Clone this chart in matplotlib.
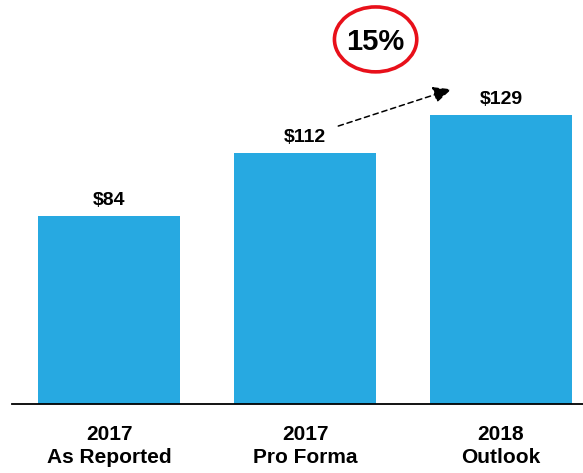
import matplotlib.pyplot as plt
from matplotlib.patches import Ellipse
import numpy as np

categories = ["2017\nAs Reported", "2017\nPro Forma", "2018\nOutlook"]
values = [84, 112, 129]
labels = ["$84", "$112", "$129"]
growth = "15%"

plt.rcParams['font.family'] = ['Liberation Sans', 'DejaVu Sans']

fig = plt.figure(figsize=(5.83, 4.73), dpi=100)
# axes placed so the bars line up with the reference
ax = fig.add_axes([12 / 583, 69 / 473, 571 / 583, 404 / 473])

x = np.arange(len(values))
ax.bar(x, values, width=0.72, color="#27A9E1", zorder=2)

for xi, v, lab in zip(x, values, labels):
    ax.annotate(lab, (xi, v), xytext=(0, 5), textcoords="offset points",
                ha="center", va="bottom", fontsize=14, fontweight="bold")

ax.set_xlim(-0.4949, 2.418)
ax.set_ylim(0, 180.5)
ax.set_xticks(x)
ax.set_xticklabels(categories, fontsize=15, fontweight="bold", linespacing=1.25)
ax.tick_params(axis="x", length=0, pad=15)
ax.set_yticks([])
for s in ["top", "right", "left"]:
    ax.spines[s].set_visible(False)
ax.spines["bottom"].set_linewidth(1.3)
ax.spines["bottom"].set_zorder(3)

# dashed growth arrow from pro forma to outlook
ax.annotate("", xy=(1.76, 141), xytext=(1.156, 123.8),
            arrowprops=dict(arrowstyle="-|>,head_length=1.1,head_width=0.5",
                            linestyle=(0, (3.5, 2.5)), color="black", lw=1.1),
            annotation_clip=False)

ell = Ellipse((1.36, 162.9), 0.42, 29, fill=False, edgecolor="#E8101A",
              lw=2.6, clip_on=False)
ax.add_patch(ell)
ax.text(1.36, 162.9, growth, ha="center", va="center_baseline",
        fontsize=21, fontweight="bold")

fig.savefig("out.png", dpi=100)
